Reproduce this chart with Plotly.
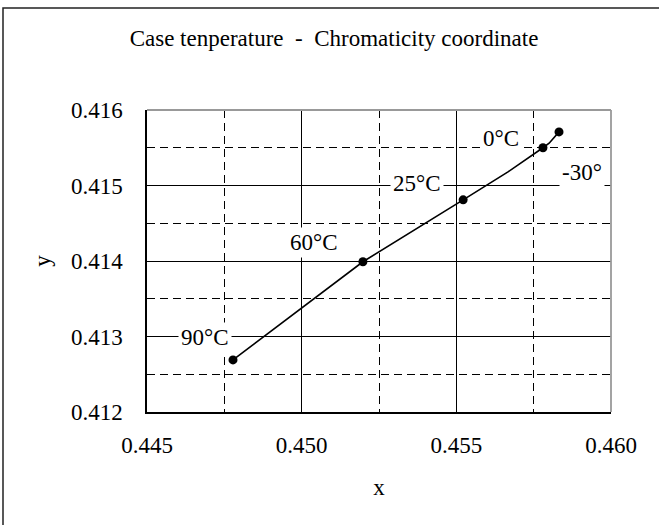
import plotly.graph_objects as go

# Measured points (chromaticity x, y) for each case temperature
temps = ["90°C", "60°C", "25°C", "0°C", "-30°"]
pt_x = [0.44778, 0.45198, 0.45522, 0.45780, 0.45832]
pt_y = [0.41269, 0.41399, 0.41481, 0.41550, 0.41571]

# Connecting line path (includes unmarked vertices)
line_x = [0.44778, 0.45198, 0.45522, 0.45667, 0.45780, 0.45800, 0.45832]
line_y = [0.41269, 0.41399, 0.41481, 0.41518, 0.41550, 0.41556, 0.41571]

# Label anchor positions
lab_x = [0.44688, 0.45040, 0.45373, 0.45644, 0.45906]
lab_y = [0.41299, 0.41425, 0.41503, 0.41562, 0.41517]

x_ticks = [0.445, 0.450, 0.455, 0.460]
x_ticklabels = ["0.445", "0.450", "0.455", "0.460"]
y_ticks = [0.412, 0.413, 0.414, 0.415, 0.416]
y_ticklabels = ["0.412", "0.413", "0.414", "0.415", "0.416"]

FONT = "Liberation Serif, Times New Roman, serif"
FS = 23
W, H = 659, 525
L, R, T, B = 147, 48, 110, 113
pw, ph = W - L - R, H - T - B

fig = go.Figure()
fig.add_trace(go.Scatter(x=line_x, y=line_y, mode="lines",
                         line=dict(color="black", width=1.6),
                         hoverinfo="skip", showlegend=False))
fig.add_trace(go.Scatter(x=pt_x, y=pt_y, mode="markers",
                         marker=dict(color="black", size=9),
                         text=temps, showlegend=False))

for t, lx, ly in zip(temps, lab_x, lab_y):
    fig.add_annotation(x=lx, y=ly, text=t, showarrow=False,
                       font=dict(family=FONT, size=FS, color="black"),
                       bgcolor="white", borderpad=2,
                       xanchor="center", yanchor="middle")

grid_dash = "8px,5px"
fig.update_xaxes(range=[0.445, 0.460], tickvals=x_ticks, ticktext=x_ticklabels,
                 showgrid=True, gridcolor="black", gridwidth=1,
                 minor=dict(dtick=0.0025, tick0=0.445, showgrid=True,
                            gridcolor="black", gridwidth=1, griddash=grid_dash),
                 showline=True, linecolor="black", linewidth=1.5,
                 zeroline=False, ticks="", ticklabelstandoff=12,
                 tickfont=dict(family=FONT, size=FS, color="black"),
                 title=dict(text="x", font=dict(family=FONT, size=FS, color="black"),
                            standoff=22))
fig.update_yaxes(range=[0.412, 0.416], tickvals=y_ticks, ticktext=y_ticklabels,
                 showgrid=True, gridcolor="black", gridwidth=1,
                 minor=dict(dtick=0.0005, tick0=0.412, showgrid=True,
                            gridcolor="black", gridwidth=1, griddash=grid_dash),
                 showline=True, linecolor="black", linewidth=1.5,
                 zeroline=False, ticks="", ticklabelstandoff=18,
                 tickfont=dict(family=FONT, size=FS, color="black"),
                 title=dict(text="y", font=dict(family=FONT, size=FS, color="black"),
                            standoff=14))

# grey top and right plot border
fig.add_shape(type="line", xref="paper", yref="paper", x0=0, x1=1, y0=1, y1=1,
              line=dict(color="#999999", width=1.8), layer="above")
fig.add_shape(type="line", xref="paper", yref="paper", x0=1, x1=1, y0=0, y1=1,
              line=dict(color="#999999", width=1.8), layer="above")

# outer chart frame (left and top visible; right/bottom off-canvas)
def px_to_paper_x(px):
    return (px - L) / pw

def px_to_paper_y(py):
    return (H - B - py) / ph

fig.add_shape(type="rect", xref="paper", yref="paper",
              x0=px_to_paper_x(3), x1=px_to_paper_x(720),
              y0=px_to_paper_y(560), y1=px_to_paper_y(8),
              line=dict(color="#222222", width=1.5), layer="above")

fig.update_layout(
    width=W, height=H,
    margin=dict(l=L, r=R, t=T, b=B),
    paper_bgcolor="white", plot_bgcolor="white",
    font=dict(family=FONT, size=FS, color="black"),
    title=dict(text="Case tenperature  -  Chromaticity coordinate",
               x=334 / W, xref="container", xanchor="center",
               y=1 - 38 / H, yref="container", yanchor="middle",
               font=dict(family=FONT, size=FS, color="black")),
    showlegend=False,
)

fig.write_html("out.html", config={"displayModeBar": False},
               post_script="document.body.style.margin='0';document.body.style.overflow='hidden';")
